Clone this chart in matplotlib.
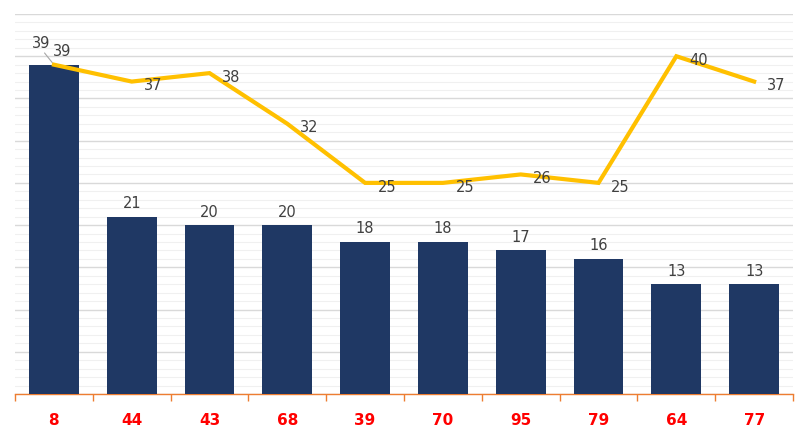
import matplotlib.pyplot as plt
import numpy as np

# categories and series
labels = ['8', '44', '43', '68', '39', '70', '95', '79', '64', '77']
bar_vals = [39, 21, 20, 20, 18, 18, 17, 16, 13, 13]
line_vals = [39, 37, 38, 32, 25, 25, 26, 25, 40, 37]

x = np.arange(len(labels))

fig = plt.figure(figsize=(8.07, 4.38), dpi=100)
ax = fig.add_axes([0.0186, 0.1005, 0.9641, 0.8675])

ax.set_axisbelow(True)
ax.set_ylim(0, 45)
ax.set_xlim(-0.5, len(labels) - 0.5)

# grid: light minor every 1, darker major every 5
ax.set_yticks(np.arange(0, 46, 5))
ax.set_yticks(np.arange(0, 46, 1), minor=True)
ax.grid(True, axis='y', which='major', color='#d9d9d9', linewidth=1)
ax.grid(True, axis='y', which='minor', color='#f0f0f0', linewidth=0.8)
ax.tick_params(axis='y', which='both', left=False, labelleft=False)

bars = ax.bar(x, bar_vals, width=0.64, color='#1f3864', zorder=3)
ax.plot(x, line_vals, color='#ffc000', linewidth=3, zorder=4, solid_joinstyle='miter')

# bar labels above bars
for i, v in enumerate(bar_vals):
    ax.annotate(str(v), (x[i], v), xytext=(0 if i else -9, 4 if i else 10),
                textcoords='offset points', ha='center', va='bottom',
                fontsize=10.5, color='#404040', zorder=5)

# line labels right of points
for i, v in enumerate(line_vals):
    if i == 0:
        ax.annotate(str(v), (x[i], v), xytext=(-1, 4), textcoords='offset points',
                    ha='left', va='bottom', fontsize=10.5, color='#404040', zorder=5)
        ax.annotate('', (x[i], v), xytext=(-8, 10), textcoords='offset points',
                    arrowprops=dict(arrowstyle='-', color='#a6a6a6', lw=0.8), zorder=5)
    else:
        ax.annotate(str(v), (x[i], v), xytext=(9, -3), textcoords='offset points',
                    ha='left', va='center', fontsize=10.5, color='#404040', zorder=5)

for s in ['top', 'right', 'left']:
    ax.spines[s].set_visible(False)
ax.spines['bottom'].set_color('#ed7d31')
ax.spines['bottom'].set_linewidth(1)

ax.set_xticks(x)
ax.set_xticklabels(labels, color='red', fontweight='bold', fontsize=11)
ax.set_xticks(np.arange(-0.5, len(labels), 1), minor=True)
ax.tick_params(axis='x', which='major', length=0, pad=14)
ax.tick_params(axis='x', which='minor', length=5, color='#ed7d31', width=1)

fig.savefig('out.png', dpi=100)
